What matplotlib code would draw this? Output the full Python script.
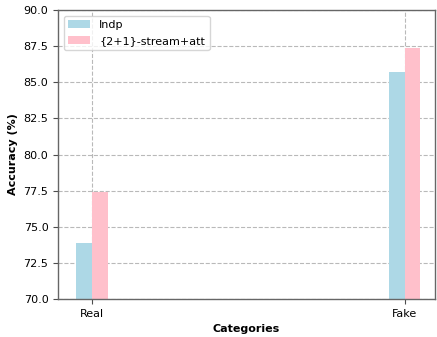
import matplotlib
matplotlib.use('Agg')
import matplotlib.pyplot as plt
import numpy as np

# Accuracy per category for each model
categories = ['Real', 'Fake']
indp_acc = [73.9, 85.7]
stream_att_acc = [77.4, 87.4]

x = np.arange(len(categories))
width = 0.05

fig, ax = plt.subplots(figsize=(4.37, 3.37), dpi=100)
ax.bar(x - width / 2, indp_acc, width, label='Indp', color='lightblue', zorder=2)
ax.bar(x + width / 2, stream_att_acc, width, label='{2+1}-stream+att', color='pink', zorder=2)

ax.set_xlabel('Categories', fontweight='bold', fontsize=8)
ax.set_ylabel('Accuracy (%)', fontweight='bold', fontsize=8)
ax.set_xticks(x)
ax.set_xticklabels(categories, fontsize=8)
ax.tick_params(axis='y', labelsize=8)
ax.tick_params(colors='0.3', labelcolor='black')
ax.set_xlim(-0.108, 1.096)
ax.set_ylim(70, 90)
ax.grid(True, linestyle='--', color='gray', alpha=0.55, zorder=0)
for spine in ax.spines.values():
    spine.set_color('0.4')
    spine.set_linewidth(1.0)
ax.legend(loc='upper left', fontsize=8)

fig.subplots_adjust(left=0.133, right=0.995, top=0.970, bottom=0.113)
plt.savefig('out.png')
